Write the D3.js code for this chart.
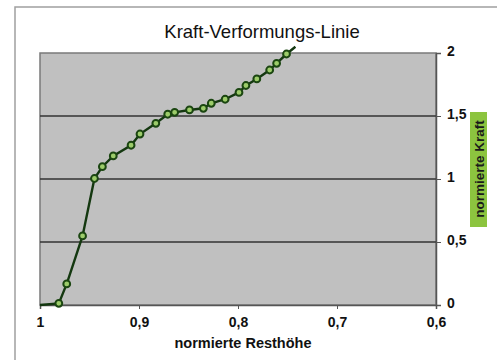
<!DOCTYPE html>
<html><head><meta charset="utf-8">
<script src="https://cdn.jsdelivr.net/npm/d3@7"></script>
<style>body{margin:0;background:#fff}svg{display:block}</style>
</head><body>
<script>
const resthoehe = [1, 0.981, 0.973, 0.957, 0.945, 0.937, 0.926, 0.908, 0.899, 0.883, 0.871, 0.864, 0.849, 0.835, 0.827, 0.813, 0.799, 0.792, 0.781, 0.768, 0.761, 0.751, 0.742];
const kraft =     [0, 0.013, 0.167, 0.548, 1.004, 1.098, 1.183, 1.268, 1.357, 1.442, 1.514, 1.529, 1.548, 1.561, 1.601, 1.633, 1.687, 1.742, 1.794, 1.865, 1.918, 1.992, 2.05];
const xTicks = [1, 0.9, 0.8, 0.7, 0.6];
const yTicks = [0, 0.5, 1, 1.5, 2];
const title = "Kraft-Verformungs-Linie";
const xTitle = "normierte Resthöhe";
const yTitle = "normierte Kraft";

const W = 497, H = 360;
const m = {left: 40, right: 436, top: 53, bottom: 305};
const fmt = v => String(v).replace(".", ",");
const FONT = "Liberation Sans, Arial, sans-serif";
const svg = d3.select("body").append("svg").attr("width", W).attr("height", H);

// chart area frame
svg.append("rect").attr("x", 15).attr("y", 7).attr("width", W).attr("height", H)
  .attr("fill", "#fff").attr("stroke", "#a0a0a0").attr("stroke-width", 1.5);

const x = d3.scaleLinear().domain([1, 0.6]).range([m.left, m.right]);
const y = d3.scaleLinear().domain([0, 2]).range([m.bottom, m.top]);

svg.append("rect").attr("x", m.left).attr("y", m.top)
  .attr("width", m.right - m.left).attr("height", m.bottom - m.top)
  .attr("fill", "#c0c0c0").attr("stroke", "#7a7a7a").attr("stroke-width", 1.5);

// gridlines
svg.append("g").selectAll("line").data(yTicks.filter(v => v > 0 && v < 2)).join("line")
  .attr("x1", m.left).attr("x2", m.right).attr("y1", d => y(d)).attr("y2", d => y(d))
  .attr("stroke", "#333").attr("stroke-width", 1.3);

// x axis
const gx = svg.append("g").attr("transform", `translate(0,${m.bottom})`)
  .call(d3.axisBottom(x).tickValues(xTicks).tickFormat(fmt).tickSize(4).tickPadding(8));
gx.select(".domain").attr("stroke", "#555").attr("stroke-width", 1.5);
gx.selectAll(".tick line").attr("stroke", "#555");
gx.selectAll("text").attr("font-family", FONT)
  .attr("font-size", 14).attr("font-weight", "bold").attr("fill", "#111");

// y axis (right)
const gy = svg.append("g").attr("transform", `translate(${m.right},0)`)
  .call(d3.axisRight(y).tickValues(yTicks).tickFormat(fmt).tickSize(5).tickPadding(6));
gy.select(".domain").attr("stroke", "#555").attr("stroke-width", 1.5);
gy.selectAll(".tick line").attr("stroke", "#555");
gy.selectAll("text").attr("font-family", FONT)
  .attr("font-size", 14).attr("font-weight", "bold").attr("fill", "#111").attr("dy", "0.2em");

// line
const pts = resthoehe.map((v, i) => [v, kraft[i]]);
svg.append("path").datum(pts)
  .attr("d", d3.line().x(d => x(d[0])).y(d => y(d[1])))
  .attr("fill", "none").attr("stroke", "#143810").attr("stroke-width", 2.4);

svg.append("g").selectAll("circle")
  .data(pts.filter(d => d[0] < 1 && d[1] <= 2)).join("circle")
  .attr("cx", d => x(d[0])).attr("cy", d => y(d[1])).attr("r", 3.4)
  .attr("fill", "#9ccc6a").attr("stroke", "#1b4611").attr("stroke-width", 2);

// title
svg.append("text").attr("x", 262).attr("y", 38).attr("text-anchor", "middle")
  .attr("font-family", FONT).attr("font-size", 18.5)
  .attr("fill", "#111").text(title);

// x title
svg.append("text").attr("x", 243).attr("y", 348).attr("text-anchor", "middle")
  .attr("font-family", FONT).attr("font-size", 14.5)
  .attr("font-weight", "bold").attr("fill", "#111").text(xTitle);

// y title on green box
svg.append("rect").attr("x", 470).attr("y", 112).attr("width", 17).attr("height", 115)
  .attr("fill", "#8cc43f");
svg.append("text").attr("transform", "translate(484,169) rotate(-90)")
  .attr("text-anchor", "middle")
  .attr("font-family", FONT).attr("font-size", 13.5)
  .attr("font-weight", "bold").attr("fill", "#1a1a1a").text(yTitle);
</script>
</body></html>
